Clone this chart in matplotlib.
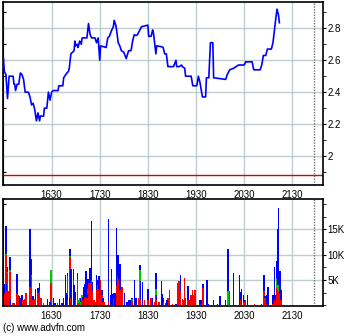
import numpy as np
import matplotlib
matplotlib.use("Agg")
import matplotlib.pyplot as plt
from matplotlib.ticker import FixedLocator, MultipleLocator

# intraday price (time in minutes after midnight)
price_time = [930, 931, 933, 935, 937, 942, 943, 944, 945, 947, 949, 951, 953, 955, 957,
              961, 963, 965, 967, 969, 971, 973, 975, 976, 980, 981, 984, 986, 988, 990,
              992, 998, 999, 1004, 1005, 1009, 1011, 1012, 1014, 1016, 1018, 1019, 1020,
              1022, 1023, 1025, 1027, 1028, 1034, 1036, 1038, 1040, 1044, 1046, 1048, 1050,
              1051, 1058, 1060, 1062, 1065, 1067, 1068, 1070, 1071, 1073, 1075, 1077, 1080,
              1083, 1086, 1089, 1091, 1093, 1095, 1097, 1100, 1102, 1110, 1111, 1114, 1116,
              1117, 1120, 1121, 1127, 1129, 1131, 1133, 1135, 1142, 1145, 1146, 1149, 1152,
              1153, 1156, 1157, 1164, 1166, 1171, 1173, 1175, 1178, 1182, 1183, 1186, 1188,
              1191, 1192, 1207, 1209, 1212, 1217, 1223, 1230, 1232, 1240, 1242, 1250, 1252,
              1254, 1257, 1259, 1264, 1266, 1269, 1271, 1273, 1274]
price_value = [2.61, 2.53, 2.51, 2.36, 2.50, 2.50, 2.45, 2.45, 2.41, 2.45, 2.45, 2.52, 2.51,
               2.48, 2.40, 2.40, 2.37, 2.32, 2.33, 2.29, 2.22, 2.27, 2.22, 2.25, 2.25, 2.30,
               2.30, 2.40, 2.35, 2.40, 2.41, 2.41, 2.44, 2.44, 2.49, 2.52, 2.53, 2.55, 2.64,
               2.65, 2.66, 2.72, 2.69, 2.70, 2.68, 2.72, 2.70, 2.74, 2.74, 2.83, 2.76, 2.74,
               2.74, 2.71, 2.74, 2.60, 2.69, 2.68, 2.74, 2.75, 2.79, 2.81, 2.85, 2.82, 2.79,
               2.71, 2.69, 2.66, 2.65, 2.61, 2.66, 2.66, 2.72, 2.76, 2.755, 2.76, 2.79, 2.81,
               2.82, 2.75, 2.75, 2.79, 2.77, 2.64, 2.69, 2.685, 2.68, 2.64, 2.64, 2.56, 2.56,
               2.60, 2.56, 2.56, 2.57, 2.56, 2.55, 2.50, 2.50, 2.44, 2.44, 2.50, 2.46, 2.37,
               2.37, 2.49, 2.49, 2.71, 2.71, 2.49, 2.48, 2.51, 2.54, 2.55, 2.57, 2.57, 2.59,
               2.59, 2.54, 2.54, 2.57, 2.63, 2.63, 2.67, 2.67, 2.71, 2.84, 2.92, 2.88, 2.835]
prev_close = 1.88

# volume bars: red (bottom), green (middle), blue (top)
vol_time = [929, 931, 933, 934, 935, 937, 938, 939, 942, 944,
            947, 948, 950, 952, 953, 955, 957, 958, 963, 964,
            965, 967, 968, 969, 970, 973, 974, 975, 977, 980,
            985, 988, 989, 992, 994, 997, 1000, 1003, 1005, 1007,
            1008, 1009, 1010, 1012, 1013, 1014, 1015, 1017, 1018, 1020,
            1022, 1023, 1025, 1026, 1028, 1029, 1030, 1031, 1033, 1034,
            1035, 1036, 1038, 1039, 1040, 1041, 1043, 1045, 1046, 1048,
            1049, 1050, 1051, 1053, 1054, 1056, 1061, 1064, 1065, 1066,
            1068, 1069, 1070, 1071, 1073, 1074, 1075, 1076, 1078, 1081,
            1084, 1086, 1088, 1090, 1091, 1093, 1094, 1095, 1098, 1100,
            1101, 1103, 1106, 1110, 1111, 1114, 1116, 1118, 1120, 1121,
            1124, 1127, 1128, 1129, 1132, 1134, 1135, 1136, 1137, 1141,
            1145, 1147, 1149, 1151, 1153, 1154, 1156, 1157, 1160, 1161,
            1162, 1164, 1166, 1167, 1169, 1175, 1177, 1179, 1184, 1185,
            1192, 1197, 1200, 1207, 1210, 1212, 1217, 1224, 1225, 1227,
            1229, 1230, 1231, 1234, 1243, 1252, 1255, 1256, 1258, 1260,
            1266, 1268, 1269, 1271, 1272, 1273, 1275, 1276]
vol_red = [6700, 2400, 9900, 2900, 6300, 2900, 6600, 0, 500, 500,
           2200, 2000, 0, 0, 1000, 1000, 1200, 2400, 3700, 2000,
           5600, 1000, 1000, 1000, 1000, 2400, 2900, 3000, 1400, 500,
           0, 0, 4400, 0, 0, 500, 0, 0, 0, 0,
           0, 1000, 5700, 0, 9500, 1500, 0, 5000, 0, 1000,
           5300, 500, 700, 0, 1000, 1000, 0, 1400, 1700, 1400,
           3300, 4400, 4400, 5000, 5700, 2900, 1000, 700, 3100, 4000,
           3300, 1400, 5000, 2000, 700, 700, 700, 0, 1000, 0,
           1400, 0, 2000, 3900, 5700, 5300, 3100, 3400, 3600, 0,
           0, 0, 0, 1200, 800, 1000, 0, 0, 1400, 1000,
           1000, 0, 1000, 1000, 1000, 1400, 0, 700, 2000, 1000,
           700, 0, 0, 700, 500, 0, 1400, 1000, 3100, 300,
           0, 4400, 4800, 2900, 1200, 1000, 5500, 1400, 1000, 900,
           0, 2000, 3100, 2000, 3100, 0, 300, 3500, 0, 0,
           0, 0, 0, 0, 0, 2900, 0, 0, 1000, 300,
           1000, 700, 1000, 0, 300, 0, 2900, 1500, 300, 0,
           300, 1000, 0, 3400, 3100, 2700, 2300, 1000]
vol_green = [1900, 0, 300, 0, 300, 0, 300, 0, 0, 0,
             0, 0, 0, 0, 0, 0, 0, 0, 0, 0,
             300, 0, 300, 0, 0, 0, 0, 0, 0, 0,
             0, 0, 2600, 0, 0, 0, 0, 0, 0, 0,
             0, 0, 0, 0, 200, 0, 0, 0, 0, 0,
             0, 500, 800, 600, 1000, 0, 0, 0, 0, 0,
             0, 0, 0, 0, 0, 0, 0, 0, 0, 0,
             0, 0, 0, 0, 0, 0, 0, 0, 0, 0,
             0, 0, 0, 0, 0, 0, 0, 0, 0, 0,
             0, 0, 0, 0, 400, 400, 0, 0, 0, 6000,
             0, 0, 0, 0, 0, 0, 0, 0, 1300, 0,
             0, 0, 0, 0, 0, 0, 0, 0, 0, 0,
             0, 0, 0, 0, 0, 0, 0, 0, 0, 0,
             0, 0, 0, 0, 0, 0, 0, 0, 0, 0,
             0, 0, 0, 0, 2900, 0, 0, 0, 0, 0,
             0, 0, 0, 0, 0, 0, 0, 0, 0, 0,
             0, 0, 0, 1800, 900, 1600, 0, 0]
vol_blue = [4300, 1800, 5500, 1300, 1000, 0, 2700, 1000, 0, 0,
            4000, 0, 1800, 1400, 1000, 0, 0, 0, 11400, 0,
            3200, 900, 0, 0, 2200, 1100, 300, 1500, 0, 0,
            1200, 700, 0, 1500, 400, 0, 1200, 500, 1400, 6000,
            2500, 1000, 750, 1400, 1400, 5600, 2500, 2100, 4000, 1700,
            1000, 0, 0, 800, 0, 700, 3600, 2800, 5000, 600,
            2000, 900, 3000, 2100, 11000, 1800, 0, 0, 2900, 1000,
            2400, 1900, 0, 1100, 700, 0, 16300, 2000, 6100, 2200,
            1100, 2500, 0, 11300, 4200, 1000, 5000, 300, 0, 2500,
            700, 1000, 1000, 200, 0, 3700, 1400, 1400, 0, 1000,
            3800, 4600, 0, 2200, 1200, 0, 1400, 0, 3000, 1000,
            0, 4800, 2300, 800, 0, 1000, 0, 0, 0, 0,
            300, 0, 0, 3100, 0, 0, 0, 0, 2800, 0,
            1000, 0, 0, 0, 0, 1000, 700, 700, 5000, 300,
            1000, 300, 1800, 1000, 8200, 0, 6300, 5900, 1700, 2900,
            1000, 300, 0, 2000, 0, 200, 3100, 300, 1700, 3600,
            1700, 6600, 2000, 3600, 11000, 14900, 4500, 2000]

hour_ticks = [990, 1050, 1110, 1170, 1230, 1290]
hour_labels = ["1630", "1730", "1830", "1930", "2030", "2130"]
price_ticks = [2.0, 2.2, 2.4, 2.6, 2.8]
price_labels = ["2", "2.2", "2.4", "2.6", "2.8"]
vol_ticks = [5000, 10000, 15000]
vol_labels = ["5K", "10K", "15K"]
marker_time = 1317

plt.rcParams['font.family'] = ['Liberation Sans Narrow', 'Liberation Sans', 'DejaVu Sans']
plt.rcParams['font.size'] = 7
grid_col = '#bccece'

fig = plt.figure(figsize=(3.6, 3.36), dpi=100)
ax1 = fig.add_axes([0.0075, 0.4494, 0.8889, 0.5432])
ax2 = fig.add_axes([0.0075, 0.0893, 0.8889, 0.3175])

ax1.plot(price_time, price_value, color='#0000ff', lw=1.2, zorder=3)
ax1.axhline(prev_close, color='#e00000', lw=1.0, zorder=2)

red = np.array(vol_red)
green = np.array(vol_green)
blue = np.array(vol_blue)
bar_kw = dict(width=1.8, lw=0, zorder=3)
ax2.bar(vol_time, red, color='#ff0000', **bar_kw)
ax2.bar(vol_time, green, bottom=red, color='#00c800', **bar_kw)
ax2.bar(vol_time, blue, bottom=red + green, color='#0000ff', **bar_kw)

ax1.set_ylim(1.818, 2.962)
ax2.set_ylim(-130, 20950)

for ax in (ax1, ax2):
    ax.set_xlim(929, 1328)
    ax.set_xticks(hour_ticks)
    ax.set_xticklabels(hour_labels)
    ax.grid(True, color=grid_col, lw=1.0, zorder=1)
    ax.axvline(marker_time, color='#707070', lw=1.0, ls=(0, (1, 1)), zorder=2)
    ax.tick_params(axis='x', length=0, pad=3.5)
    ax.tick_params(axis='y', which='both', left=False, right=True, labelleft=False,
                   labelright=True, direction='out', length=2, pad=1.5)
    for s in ax.spines.values():
        s.set_linewidth(1.2)

ax1.yaxis.set_major_locator(FixedLocator(price_ticks))
ax1.set_yticklabels(price_labels)
ax1.yaxis.set_minor_locator(MultipleLocator(0.1))
ax2.yaxis.set_major_locator(FixedLocator(vol_ticks))
ax2.set_yticklabels(vol_labels)
ax2.yaxis.set_minor_locator(MultipleLocator(2500))

# small inward ticks on the left edge
sec1 = ax1.secondary_yaxis('left')
sec1.yaxis.set_major_locator(MultipleLocator(0.1))
sec1.tick_params(direction='in', length=2, labelleft=False)
sec2 = ax2.secondary_yaxis('left')
sec2.yaxis.set_major_locator(MultipleLocator(5000))
sec2.tick_params(direction='in', length=2, labelleft=False)

fig.text(0.008, 0.024, "(c) www.advfn.com", fontsize=7, ha='left', va='center')

fig.savefig("out.png", dpi=100)
